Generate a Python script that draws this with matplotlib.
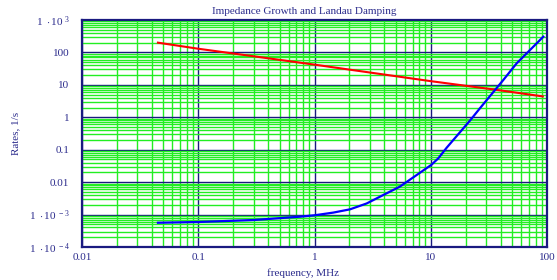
import matplotlib
matplotlib.use("Agg")
import matplotlib.pyplot as plt
from matplotlib.ticker import FixedLocator, NullFormatter, FixedFormatter

plt.rcParams['font.family'] = ['Liberation Serif', 'DejaVu Serif']
plt.rcParams['mathtext.fontset'] = 'custom'
plt.rcParams['mathtext.rm'] = 'Liberation Serif'
plt.rcParams['mathtext.it'] = 'Liberation Serif'

title = "Impedance Growth and Landau Damping"
xlabel = "frequency, MHz"
ylabel = "Rates, 1/s"

# Landau damping (red)
freq_red = [0.045, 0.1, 0.3, 1, 3, 10, 35, 92]
rate_red = [200, 130, 76, 42, 24, 13, 7.2, 4.4]

# Impedance growth (blue)
freq_blue = [0.045, 0.1, 0.3, 0.75, 1, 1.45, 2.02, 2.81, 3.9, 5.4, 7.57, 10.1, 11.6,
             13.7, 21.8, 26.5, 30.3, 42, 54.8, 93]
rate_blue = [5.6e-4, 5.9e-4, 6.8e-4, 8.6e-4, 9.5e-4, 1.15e-3, 1.45e-3, 2.2e-3,
             4.0e-3, 7.2e-3, 0.0166, 0.034, 0.054, 0.115, 0.8, 1.9, 3.4, 14, 46, 306]

xticks = [0.01, 0.1, 1, 10, 100]
xticklabels = ["0.01", "0.1", "1", "10", "100"]
yticks = [1e-4, 1e-3, 0.01, 0.1, 1, 10, 100, 1e3]
yticklabels = [r"$1\ \cdot 10^{\ -4}$", r"$1\ \cdot 10^{\ -3}$", "0.01", "0.1", "1", "10", "100",
               r"$1\ \cdot 10^{\ 3}$"]

navy = "#2b2b8c"
fig = plt.figure(figsize=(5.57, 2.80), dpi=100)
ax = fig.add_axes([82/557, 1-247/280, (547-82)/557, (247-20)/280])
ax.set_xscale('log')
ax.set_yscale('log')
ax.set_xlim(0.01, 100)
ax.set_ylim(1e-4, 1e3)

# minor grid positions
xminor = [m * 10.0**e for e in range(-2, 2) for m in range(2, 10)]
yminor = [m * 10.0**e for e in range(-4, 3) for m in range(2, 10)]
ax.xaxis.set_major_locator(FixedLocator(xticks))
ax.xaxis.set_major_formatter(FixedFormatter(xticklabels))
ax.yaxis.set_major_locator(FixedLocator(yticks))
ax.yaxis.set_major_formatter(FixedFormatter(yticklabels))
ax.xaxis.set_minor_locator(FixedLocator(xminor))
ax.yaxis.set_minor_locator(FixedLocator(yminor))
ax.xaxis.set_minor_formatter(NullFormatter())
ax.yaxis.set_minor_formatter(NullFormatter())

ax.grid(which='minor', color='#22ee22', linewidth=1.0)
ax.grid(which='major', color='#1a1a80', linewidth=1.0)
ax.set_axisbelow(True)

ax.tick_params(which='both', length=0, colors=navy, labelsize=8)
ax.tick_params(axis='y', pad=9)
ax.tick_params(axis='x', pad=4)

ax.plot(freq_red, rate_red, color='#ff0000', linewidth=1.5)
ax.plot(freq_blue, rate_blue, color='#0000ff', linewidth=1.6)

for s in ax.spines.values():
    s.set_color('#1a1a80')
    s.set_linewidth(1.6)

ax.set_title(title, color=navy, fontsize=8, x=0.478, pad=4)
ax.set_xlabel(xlabel, color=navy, fontsize=8)
ax.xaxis.set_label_coords(0.475, -0.095)
ax.set_ylabel(ylabel, color=navy, fontsize=8, labelpad=6)

fig.savefig("out.png", dpi=100)
